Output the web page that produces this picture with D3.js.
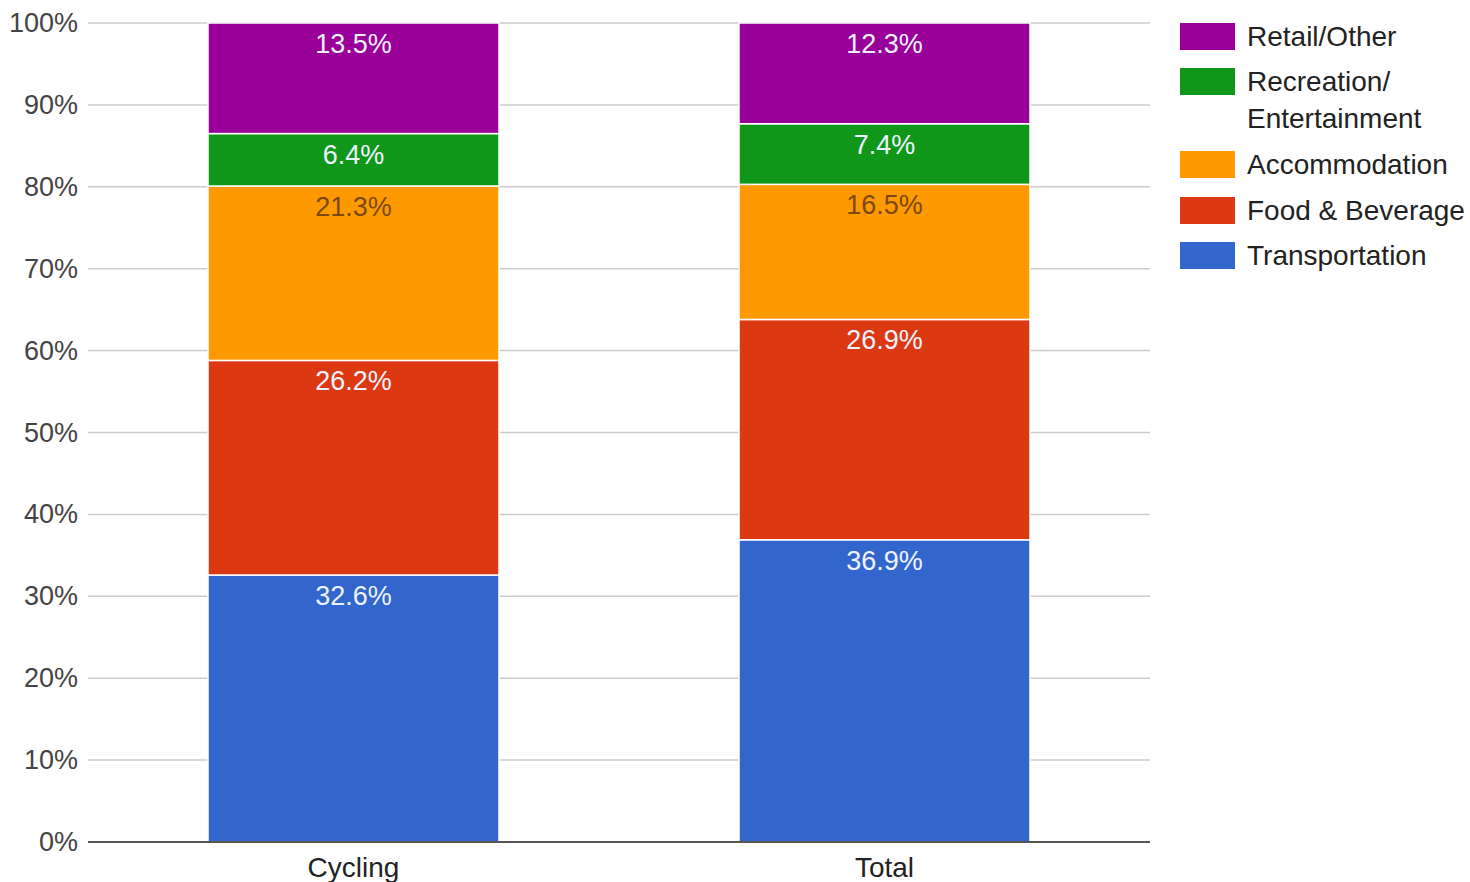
<!DOCTYPE html>
<html>
<head>
<meta charset="utf-8">
<script src="https://cdn.jsdelivr.net/npm/d3@7"></script>
<style>
  body { margin: 0; background: #fff; }
  svg { font-family: "Liberation Sans", Arial, sans-serif; }
</style>
</head>
<body>
<div id="chart"></div>
<script>
// categories along the x axis
var categories = ["Cycling", "Total"];
// stack order, bottom to top
var seriesNames = ["Transportation", "Food & Beverage", "Accommodation", "Recreation/Entertainment", "Retail/Other"];
var transportation = [32.6, 36.9];
var foodBeverage = [26.2, 26.9];
var accommodation = [21.3, 16.5];
var recreation = [6.4, 7.4];
var retail = [13.5, 12.3];
var colors = ["#3366cc", "#dc3912", "#ff9900", "#109618", "#990099"];
var yTicks = [0, 10, 20, 30, 40, 50, 60, 70, 80, 90, 100];
// legend is shown top to bottom in reverse stack order
var legendLabels = [["Retail/Other"], ["Recreation/", "Entertainment"], ["Accommodation"], ["Food & Beverage"], ["Transportation"]];

var width = 1470, height = 882;
var margin = { top: 23, right: 320, bottom: 40, left: 88 };

var rows = categories.map((c, i) => {
    let o = { cat: c };
    o[seriesNames[0]] = transportation[i];
    o[seriesNames[1]] = foodBeverage[i];
    o[seriesNames[2]] = accommodation[i];
    o[seriesNames[3]] = recreation[i];
    o[seriesNames[4]] = retail[i];
    return o;
});

var stacked = d3.stack().keys(seriesNames)(rows);

var x = d3.scaleBand()
    .domain(categories)
    .range([margin.left, 1150])
    .paddingInner(0.452)
    .paddingOuter(0.226);

var y = d3.scaleLinear()
    .domain([0, 100])
    .range([height - margin.bottom, margin.top]);

var svg = d3.select("#chart").append("svg")
    .attr("width", width)
    .attr("height", height);

// grid lines
svg.append("g")
    .selectAll("line")
    .data(yTicks.filter(d => d > 0))
    .join("line")
    .attr("x1", margin.left)
    .attr("x2", 1150)
    .attr("y1", d => y(d))
    .attr("y2", d => y(d))
    .attr("stroke", "#cccccc")
    .attr("stroke-width", 1.5);

// y tick labels
svg.append("g")
    .selectAll("text")
    .data(yTicks)
    .join("text")
    .attr("x", 78)
    .attr("y", d => y(d) + 9)
    .attr("text-anchor", "end")
    .attr("font-size", 27)
    .attr("fill", "#444")
    .text(d => d + "%");

// bars
var layer = svg.append("g")
    .selectAll("g")
    .data(stacked)
    .join("g")
    .attr("fill", (d, i) => colors[i]);

layer.selectAll("rect")
    .data(d => d)
    .join("rect")
    .attr("x", d => x(d.data.cat))
    .attr("width", x.bandwidth())
    .attr("y", d => y(d[1]))
    .attr("height", d => y(d[0]) - y(d[1]))
    .attr("stroke", "#ffffff")
    .attr("stroke-width", 1.5);

// value labels at the top of each segment
stacked.forEach((s, si) => {
    svg.append("g")
        .selectAll("text")
        .data(s)
        .join("text")
        .attr("x", d => x(d.data.cat) + x.bandwidth() / 2)
        .attr("y", d => y(d[1]) + 30)
        .attr("text-anchor", "middle")
        .attr("font-size", 27)
        .attr("fill", si === 2 ? "#7a4a10" : "#eef2ff")
        .text(d => (d[1] - d[0]).toFixed(1) + "%");
});

// baseline
svg.append("line")
    .attr("x1", margin.left)
    .attr("x2", 1150)
    .attr("y1", y(0))
    .attr("y2", y(0))
    .attr("stroke", "#555")
    .attr("stroke-width", 2);

// x labels
svg.append("g")
    .selectAll("text")
    .data(categories)
    .join("text")
    .attr("x", d => x(d) + x.bandwidth() / 2)
    .attr("y", 877)
    .attr("text-anchor", "middle")
    .attr("font-size", 28)
    .attr("fill", "#222")
    .text(d => d);

// legend
var legendY = [23, 68, 151, 197, 242];
var legendColors = colors.slice().reverse();
var legend = svg.append("g")
    .selectAll("g")
    .data(legendLabels)
    .join("g")
    .attr("transform", (d, i) => `translate(1180, ${legendY[i]})`);

legend.append("rect")
    .attr("width", 55)
    .attr("height", 27)
    .attr("fill", (d, i) => legendColors[i]);

legend.selectAll("text")
    .data(d => d)
    .join("text")
    .attr("x", 67)
    .attr("y", (d, i) => 23 + i * 37)
    .attr("font-size", 28)
    .attr("fill", "#222")
    .text(d => d);
</script>
</body>
</html>
